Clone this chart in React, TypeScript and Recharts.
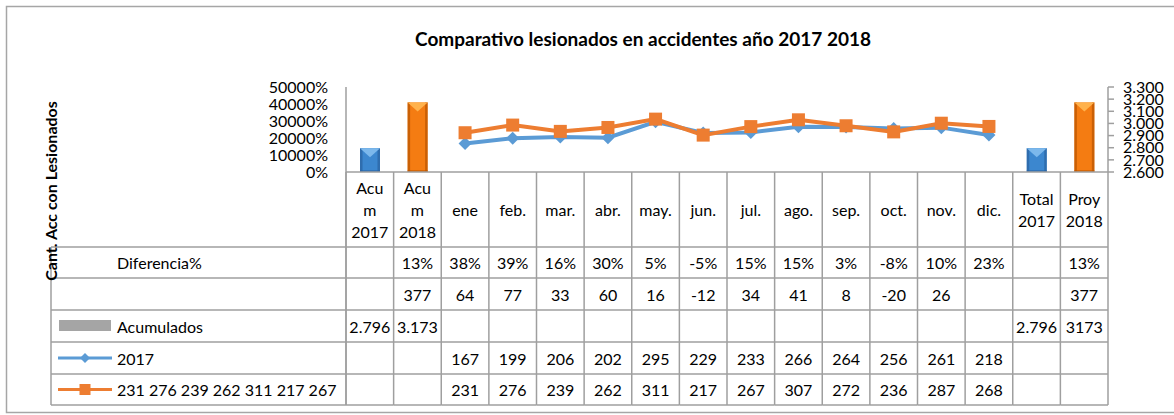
import React from 'react';
import { ComposedChart, Bar, Line, XAxis, YAxis, Cell } from 'recharts';

// categories (header text split in the lines Excel wraps them to)
const headers = [
  ['Acu', 'm', '2017'], ['Acu', 'm', '2018'],
  ['ene'], ['feb.'], ['mar.'], ['abr.'], ['may.'], ['jun.'],
  ['jul.'], ['ago.'], ['sep.'], ['oct.'], ['nov.'], ['dic.'],
  ['Total', '2017'], ['Proy', '2018'],
];
const diferencia = ['', '13%', '38%', '39%', '16%', '30%', '5%', '-5%', '15%', '15%', '3%', '-8%', '10%', '23%', '', '13%'];
const diferenciaAbs = ['', '377', '64', '77', '33', '60', '16', '-12', '34', '41', '8', '-20', '26', '', '', '377'];
const acumuladosText = ['2.796', '3.173', '', '', '', '', '', '', '', '', '', '', '', '', '2.796', '3173'];
const acumulados = [2796, 3173, null, null, null, null, null, null, null, null, null, null, null, null, 2796, 3173];
const serie2017 = [null, null, 167, 199, 206, 202, 295, 229, 233, 266, 264, 256, 261, 218, null, null];
const serie2018 = [null, null, 231, 276, 239, 262, 311, 217, 267, 307, 272, 236, 287, 268, null, null];
const leftTicks = [0, 100, 200, 300, 400, 500];
const rightTicks = [2600, 2700, 2800, 2900, 3000, 3100, 3200, 3300];

const data = headers.map((h, i) => ({
  cat: h.join(' '),
  acum: acumulados[i],
  v2017: serie2017[i],
  v2018: serie2018[i],
}));

const W = 1174;
const H = 415;
const PLOT_LEFT = 346;
const PLOT_RIGHT = 1108;
const PLOT_TOP = 87;
const PLOT_BOTTOM = 172;
const TABLE_LEFT = 51;
const ROWS = [172, 247, 278, 310, 342, 374, 405];
const COL_W = (PLOT_RIGHT - PLOT_LEFT) / headers.length;
const GRID = '#9f9f9f';
const FONT = 'Lato, "Open Sans", sans-serif';
const BLUE = '#5b9bd5';
const ORANGE = '#ed7d31';

const rowMid = (r: number) => (ROWS[r] + ROWS[r + 1]) / 2;

const TableTick = (props: any) => {
  const { x, payload } = props;
  const i = payload.index;
  const l = x - COL_W / 2;
  const r = x + COL_W / 2;
  const lines = headers[i];
  const h0 = rowMid(0) - ((lines.length - 1) * 22) / 2;
  const cells = [
    diferencia[i],
    diferenciaAbs[i],
    acumuladosText[i],
    serie2017[i] == null ? '' : String(serie2017[i]),
    serie2018[i] == null ? '' : String(serie2018[i]),
  ];
  return (
    <g fontFamily={FONT} fontSize={16} fill="#000">
      <line x1={l} x2={l} y1={ROWS[0]} y2={ROWS[6]} stroke={GRID} strokeWidth={1.5} />
      {i === headers.length - 1 && (
        <line x1={r} x2={r} y1={ROWS[0]} y2={ROWS[6]} stroke={GRID} strokeWidth={1.5} />
      )}
      {ROWS.slice(1).map((y) => (
        <line key={y} x1={l} x2={r} y1={y} y2={y} stroke={GRID} strokeWidth={1.5} />
      ))}
      {lines.map((t, k) => (
        <text key={k} x={x} y={h0 + k * 22} textAnchor="middle" dominantBaseline="central">{t}</text>
      ))}
      {cells.map((t, k) => (
        <text key={'c' + k} x={x} y={rowMid(k + 1)} textAnchor="middle" dominantBaseline="central">{t}</text>
      ))}
    </g>
  );
};

const BevelBar = (props: any) => {
  const { x, y, width, height, payload } = props;
  if (height == null || height <= 0) return <g />;
  const is2017 = String(payload?.cat ?? '').includes('2017');
  const c = is2017
    ? { body: '#3c87cf', edge: '#2a62a0', top: '#7cb8ec' }
    : { body: '#f47c12', edge: '#b85400', top: '#ffb24c' };
  const tri = Math.min(9, height);
  return (
    <g>
      <rect x={x} y={y} width={width} height={height} fill={c.body} />
      <rect x={x} y={y} width={2.5} height={height} fill={c.edge} opacity={0.7} />
      <rect x={x + width - 2.5} y={y} width={2.5} height={height} fill={c.edge} opacity={0.7} />
      <rect x={x} y={y + height - 2} width={width} height={2} fill={c.edge} opacity={0.5} />
      <polygon points={`${x},${y} ${x + width},${y} ${x + width / 2},${y + tri}`} fill={c.top} />
    </g>
  );
};

const Diamond = (props: any) => {
  const { cx, cy } = props;
  if (cx == null || cy == null || props.value == null) return <g key={props.index} />;
  const s = 6.5;
  return (
    <polygon key={props.index} points={`${cx},${cy - s} ${cx + s},${cy} ${cx},${cy + s} ${cx - s},${cy}`} fill={BLUE} />
  );
};

const Square = (props: any) => {
  const { cx, cy } = props;
  if (cx == null || cy == null || props.value == null) return <g key={props.index} />;
  const s = 6.5;
  return <rect key={props.index} x={cx - s} y={cy - s} width={s * 2} height={s * 2} fill={ORANGE} />;
};

const fmtPct = (v: number) => `${v * 100}%`;
const fmtThousand = (v: number) => {
  const s = String(v);
  return s.length > 3 ? `${s.slice(0, s.length - 3)}.${s.slice(-3)}` : s;
};

export default function App() {
  return (
    <div style={{ position: 'absolute', left: 0, top: 0, width: W, height: H, background: '#fff' }}>
      <ComposedChart
        width={W}
        height={H}
        data={data}
        margin={{ top: PLOT_TOP, right: 0, bottom: H - ROWS[6], left: 0 }}
        barSize={20}
      >
        <XAxis
          dataKey="cat"
          interval={0}
          height={ROWS[6] - PLOT_BOTTOM}
          tickLine={false}
          axisLine={{ stroke: GRID, strokeWidth: 1.5 }}
          tick={<TableTick />}
        />
        <YAxis
          yAxisId="left"
          width={PLOT_LEFT}
          domain={[0, 500]}
          ticks={leftTicks}
          tickFormatter={fmtPct}
          tickLine={false}
          tickMargin={12}
          axisLine={{ stroke: GRID, strokeWidth: 1.5 }}
          tick={{ fill: '#000', fontSize: 16, fontFamily: FONT }}
          interval={0}
        />
        <YAxis
          yAxisId="right"
          orientation="right"
          width={W - PLOT_RIGHT}
          domain={[2600, 3300]}
          ticks={rightTicks}
          tickFormatter={fmtThousand}
          tickSize={6}
          tickMargin={9}
          tickLine={{ stroke: GRID, strokeWidth: 1.5 }}
          axisLine={{ stroke: GRID, strokeWidth: 1.5 }}
          tick={{ fill: '#000', fontSize: 16, fontFamily: FONT }}
          interval={0}
          allowDataOverflow
        />
        <Bar yAxisId="right" dataKey="acum" shape={<BevelBar />} isAnimationActive={false}>
          {data.map((d, i) => (
            <Cell key={i} fill={d.cat.includes('2017') ? BLUE : ORANGE} />
          ))}
        </Bar>
        <Line
          yAxisId="left"
          dataKey="v2017"
          stroke={BLUE}
          strokeWidth={4}
          dot={(p: any) => <Diamond {...p} key={p.index} />}
          activeDot={false}
          isAnimationActive={false}
        />
        <Line
          yAxisId="left"
          dataKey="v2018"
          stroke={ORANGE}
          strokeWidth={4}
          dot={(p: any) => <Square {...p} key={p.index} />}
          activeDot={false}
          isAnimationActive={false}
        />
      </ComposedChart>
      <svg
        width={W}
        height={H}
        style={{ position: 'absolute', left: 0, top: 0, pointerEvents: 'none' }}
        fontFamily={FONT}
      >
        <rect x={6.5} y={6.5} width={W} height={406} fill="none" stroke="#a6a6a6" strokeWidth={1.5} />
        <text x={643} y={46} textAnchor="middle" fontSize={19} fontWeight="bold" fill="#000">
          Comparativo lesionados en accidentes año 2017 2018
        </text>
        <line x1={PLOT_LEFT} x2={PLOT_LEFT} y1={PLOT_BOTTOM} y2={ROWS[6]} stroke={GRID} strokeWidth={1.5} />
        <line x1={TABLE_LEFT} x2={TABLE_LEFT} y1={ROWS[1]} y2={ROWS[6]} stroke={GRID} strokeWidth={1.5} />
        {ROWS.slice(1).map((y) => (
          <line key={y} x1={TABLE_LEFT} x2={PLOT_LEFT} y1={y} y2={y} stroke={GRID} strokeWidth={1.5} />
        ))}
        <g fontSize={16} fill="#000">
          <text x={117} y={rowMid(1)} dominantBaseline="central">Diferencia%</text>
          <rect x={59} y={320} width={52} height={11} fill="#a5a5a5" />
          <text x={117} y={rowMid(3)} dominantBaseline="central">Acumulados</text>
          <line x1={58} x2={112} y1={rowMid(4)} y2={rowMid(4)} stroke={BLUE} strokeWidth={3} />
          <polygon
            points={`85,${rowMid(4) - 5} 90,${rowMid(4)} 85,${rowMid(4) + 5} 80,${rowMid(4)}`}
            fill={BLUE}
          />
          <text x={117} y={rowMid(4)} dominantBaseline="central">2017</text>
          <line x1={58} x2={112} y1={rowMid(5)} y2={rowMid(5)} stroke={ORANGE} strokeWidth={3} />
          <rect x={79.5} y={rowMid(5) - 5.5} width={11} height={11} fill={ORANGE} />
          <text x={117} y={rowMid(5)} dominantBaseline="central">231 276 239 262 311 217 267</text>
        </g>
        <text
          transform={`translate(50, 191) rotate(-90)`}
          textAnchor="middle"
          dominantBaseline="central"
          fontSize={16}
          fontWeight="bold"
          fill="#000"
        >
          Cant. Acc con Lesionados
        </text>
      </svg>
    </div>
  );
}
